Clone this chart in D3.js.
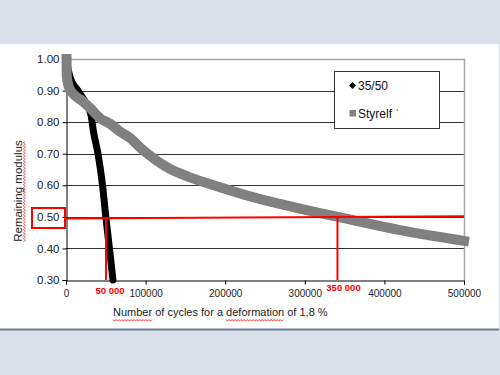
<!DOCTYPE html>
<html>
<head>
<meta charset="utf-8">
<script src="https://cdn.jsdelivr.net/npm/d3@7"></script>
<style>
  body { margin: 0; }
  svg { display: block; font-family: "Liberation Sans", Arial, sans-serif; }
</style>
</head>
<body>
<script>
let w = 500;
let h = 375;

// 35/50 binder (black)
let cycles3550 = [0, 5000, 15000, 25000, 31400, 34500, 40200, 45900, 50000, 54600, 59000];
let modulus3550 = [1.00, 0.943, 0.90, 0.86, 0.823, 0.77, 0.70, 0.60, 0.50, 0.40, 0.30];

// Styrelf binder (grey)
let cyclesStyrelf = [700, 1000, 3500, 10000, 20000, 30000, 43000, 55300, 67800, 80400, 93000,
  105500, 118000, 130700, 155800, 193500, 231200, 268800, 294000, 319100, 349000, 419600, 500000];
let modulusStyrelf = [1.00, 0.945, 0.912, 0.887, 0.868, 0.845, 0.812, 0.795, 0.770, 0.750, 0.720,
  0.694, 0.671, 0.652, 0.625, 0.594, 0.565, 0.541, 0.526, 0.512, 0.496, 0.458, 0.424];

let yTicks = [0.30, 0.40, 0.50, 0.60, 0.70, 0.80, 0.90, 1.00];
let xTicks = [0, 100000, 200000, 300000, 400000, 500000];
let gridValues = [0.40, 0.50, 0.60, 0.70, 0.80, 0.90];

let legendNames = ['35/50', 'Styrelf \u02C8'];

// red markers: level 0.50 and the two read-off cycle counts
let markLevel = [0.495, 0.502];
let markCycles = [50200, 341000];
let markLabels = ['50 000', '350 000'];

let xScale = d3.scaleLinear()
  .domain([0, 500000])
  .range([66, 464]);

let yScale = d3.scaleLinear()
  .domain([0.3, 1.0])
  .range([280, 59]);

let svg = d3.select('body')
  .append('svg')
  .attr('width', w)
  .attr('height', h);

// slide background
svg.append('rect')
  .attr('width', w)
  .attr('height', h)
  .attr('fill', '#d9e0e8');

svg.append('rect')
  .attr('x', 0)
  .attr('y', 44)
  .attr('width', 499)
  .attr('height', 285)
  .attr('fill', '#fff');

svg.append('line')
  .attr('x1', 0)
  .attr('x2', 499)
  .attr('y1', 329.5)
  .attr('y2', 329.5)
  .attr('stroke', '#6d7d91')
  .attr('stroke-width', 2);

// gridlines
svg.append('g')
  .selectAll('line')
  .data(gridValues)
  .enter()
  .append('line')
  .attr('x1', xScale(0))
  .attr('x2', xScale(500000))
  .attr('y1', (d) => { return Math.round(yScale(d)) + 0.5; })
  .attr('y2', (d) => { return Math.round(yScale(d)) + 0.5; })
  .attr('stroke', '#333');

svg.append('path')
  .attr('d', 'M' + xScale(0) + ',' + (Math.round(yScale(1)) + 0.5) +
    'H' + (xScale(500000) + 0.5) + 'V' + yScale(0.3))
  .attr('fill', 'none')
  .attr('stroke', '#a6a6a6')
  .attr('stroke-width', 1.5);

// axes
let xAxis = d3.axisBottom()
  .scale(xScale)
  .tickValues(xTicks)
  .tickFormat((d) => { return String(d); })
  .tickSize(4)
  .tickPadding(5);

let yAxis = d3.axisLeft()
  .scale(yScale)
  .tickValues(yTicks)
  .tickFormat(d3.format('.2f'))
  .tickSize(4)
  .tickPadding(3);

let gx = svg.append('g')
  .attr('transform', 'translate(0, ' + (yScale(0.3) + 0.5) + ')')
  .call(xAxis);

let gy = svg.append('g')
  .attr('transform', 'translate(' + (xScale(0) + 0.5) + ', 0)')
  .call(yAxis);

gx.selectAll('text').attr('font-size', 10).attr('fill', '#222').attr('font-family', null);
gy.selectAll('text').attr('font-size', 11.5).attr('fill', '#222').attr('font-family', null);
svg.selectAll('.domain, .tick line').attr('stroke', '#000');

// series
let line = d3.line()
  .x((d) => { return xScale(d[0]); })
  .y((d) => { return yScale(d[1]); })
  .curve(d3.curveMonotoneX);

svg.append('path')
  .datum(d3.zip(cycles3550, modulus3550))
  .attr('d', line)
  .attr('fill', 'none')
  .attr('stroke', '#000')
  .attr('stroke-width', 7)
  .attr('stroke-linecap', 'round')
  .attr('stroke-linejoin', 'round');

svg.append('path')
  .datum(d3.zip(cyclesStyrelf, modulusStyrelf))
  .attr('d', line)
  .attr('fill', 'none')
  .attr('stroke', '#808080')
  .attr('stroke-width', 10)
  .attr('stroke-linecap', 'square')
  .attr('stroke-linejoin', 'round');

// red read-off lines
svg.append('rect')
  .attr('x', 32)
  .attr('y', 208)
  .attr('width', 33)
  .attr('height', 20)
  .attr('fill', 'none')
  .attr('stroke', '#ff0000')
  .attr('stroke-width', 2);

svg.append('line')
  .attr('x1', 65)
  .attr('x2', xScale(500000))
  .attr('y1', yScale(markLevel[0]))
  .attr('y2', yScale(markLevel[1]))
  .attr('stroke', '#ff0000')
  .attr('stroke-width', 2);

svg.append('g')
  .selectAll('line')
  .data(markCycles)
  .enter()
  .append('line')
  .attr('x1', (d) => { return xScale(d); })
  .attr('x2', (d) => { return xScale(d); })
  .attr('y1', yScale(0.5))
  .attr('y2', yScale(0.3))
  .attr('stroke', '#ff0000')
  .attr('stroke-width', 2);

svg.append('g')
  .selectAll('text')
  .data(markLabels)
  .enter()
  .append('text')
  .attr('x', (d, i) => { return i === 0 ? 110 : 343.5; })
  .attr('y', (d, i) => { return i === 0 ? 294 : 291; })
  .attr('text-anchor', 'middle')
  .attr('font-size', 9.5)
  .attr('font-weight', 'bold')
  .attr('fill', '#ff0000')
  .text((d) => { return d; });

// legend
let legend = svg.append('g');

legend.append('rect')
  .attr('x', 334.5)
  .attr('y', 71.5)
  .attr('width', 105)
  .attr('height', 57)
  .attr('fill', '#fff')
  .attr('stroke', '#333');

legend.append('path')
  .attr('d', d3.symbol(d3.symbolDiamond2, 30)())
  .attr('transform', 'translate(352.5, 85.5)')
  .attr('fill', '#000');

legend.append('rect')
  .attr('x', 349.5)
  .attr('y', 110)
  .attr('width', 6.5)
  .attr('height', 6.5)
  .attr('fill', '#808080');

legend.selectAll('text')
  .data(legendNames)
  .enter()
  .append('text')
  .attr('x', 358)
  .attr('y', (d, i) => { return i === 0 ? 90 : 118; })
  .attr('font-size', 12)
  .attr('fill', '#111')
  .text((d) => { return d; });

// axis titles
let xTitle = svg.append('text')
  .attr('x', 113)
  .attr('y', 316)
  .attr('font-size', 11)
  .attr('fill', '#222')
  .text('Number of cycles for a deformation of 1,8 %');

let yTitle = svg.append('text')
  .attr('transform', 'translate(22, 191) rotate(-90)')
  .attr('text-anchor', 'middle')
  .attr('font-size', 11.5)
  .attr('fill', '#222')
  .text('Remaining modulus');

// spell-check squiggles
function squiggle(parent, x0, x1, y) {
  let pts = [];
  for (let x = x0, k = 0; x <= x1; x += 1.5, k++) {
    pts.push([x, y + (k % 2 ? 1 : -0.5)]);
  }
  parent.append('path')
    .attr('d', d3.line()(pts))
    .attr('fill', 'none')
    .attr('stroke', '#ff0000')
    .attr('stroke-width', 0.8);
}

let xNode = xTitle.node();
let xText = xNode.textContent;
['Number', 'deformation'].forEach((word) => {
  let i = xText.indexOf(word);
  let start = 113 + (i > 0 ? xNode.getSubStringLength(0, i) : 0);
  let len = xNode.getSubStringLength(i, word.length);
  squiggle(svg, start, start + len, 320);
});

let yLen = yTitle.node().getComputedTextLength();
let gq = svg.append('g').attr('transform', 'translate(22, 191) rotate(-90)');
squiggle(gq, -yLen / 2, yLen / 2, 2);
</script>
</body>
</html>
